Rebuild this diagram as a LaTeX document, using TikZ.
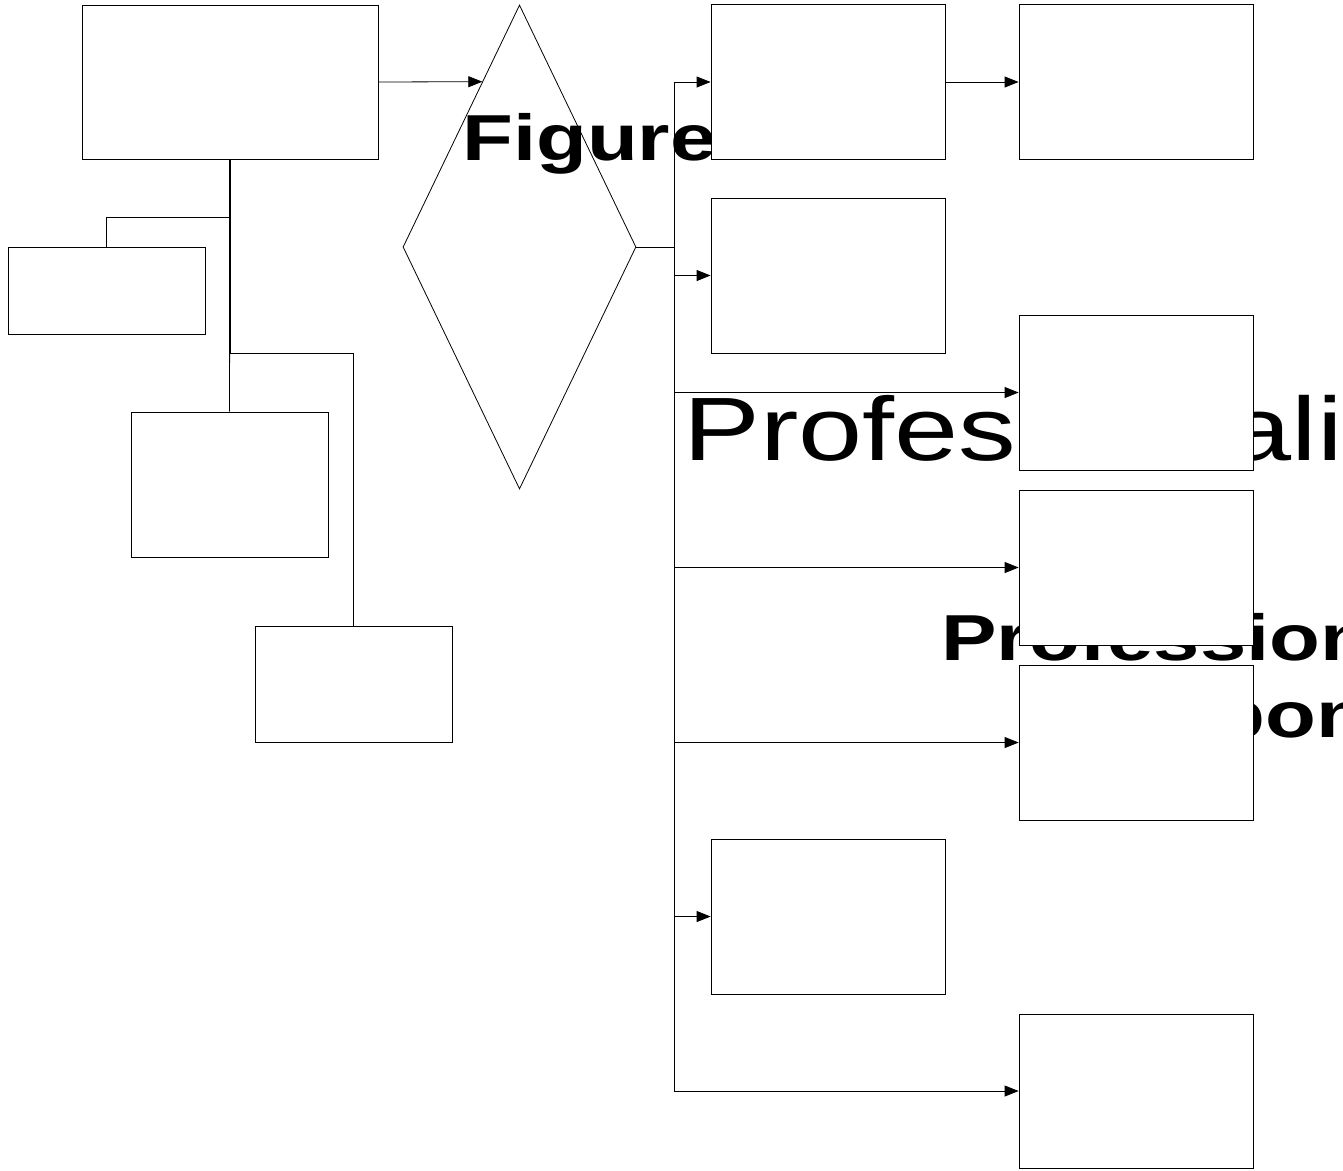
\documentclass[tikz,border=0pt]{standalone}
\usepackage{fontspec}
\usepackage{graphicx}
\setmainfont{Liberation Sans}
\usetikzlibrary{arrows.meta,shapes.geometric,calc}
\begin{document}
\begin{tikzpicture}[x=1pt,y=-1pt,
  box/.style={draw=black, fill=white, line width=0.8pt, inner sep=0pt, minimum width=234pt, minimum height=155pt},
  conn/.style={draw=black, line width=0.8pt},
  arr/.style={conn, -{Triangle[length=14pt,width=11pt]}},
  bigbold/.style={anchor=base west, inner sep=0pt, font=\fontsize{65}{75}\selectfont\bfseries},
  bigreg/.style={anchor=base west, inner sep=0pt, font=\fontsize{90}{100}\selectfont}]
\fill[white] (0,0) rectangle (1343,1170);
\useasboundingbox (0,0) rectangle (1343,1170);

% diamond
\node[diamond, draw=black, line width=0.8pt, inner sep=0pt, minimum width=233pt, minimum height=484pt] (dia) at (519.5,247) {};

% texts (behind the boxes)
\node[bigbold] (t1) at (462,160) {\scalebox{1.28}[1]{Figure}};
\node[bigreg] (t2) at (683,460) {\scalebox{1.28}[1]{Professionalism}};
\node[bigbold] (t3) at (941,660) {\scalebox{1.28}[1]{Professional}};
\node[bigbold] (t4) at (1062,737) {\scalebox{1.28}[1]{Responsibility}};

% left boxes
\node[box, minimum width=296pt, minimum height=154pt] (A) at (230,82) {};
\node[box, minimum width=197pt, minimum height=87pt] (B) at (106.5,290.5) {};
\node[box, minimum width=197pt, minimum height=145pt] (C) at (229.5,484.5) {};
\node[box, minimum width=197pt, minimum height=116pt] (D) at (353.5,684) {};

% right boxes
\node[box] (R1) at (828,82) {};
\node[box] (R1b) at (1136,82) {};
\node[box] (R2) at (828,275.5) {};
\node[box] (R3) at (1136,392.5) {};
\node[box] (R4) at (1136,567.5) {};
\node[box] (R5) at (1136,742.5) {};
\node[box] (R6) at (828,916.5) {};
\node[box, minimum height=154pt] (R7) at (1136,1091) {};

% left connectors
\coordinate (jB) at (230,217);
\coordinate (jD) at (230,353);
\draw[conn] (A.south) -- (C.north);
\draw[conn, line width=1.6pt] (A.south) -- (jD);
\draw[conn] (jB) -| (B.north);
\draw[conn] (jD) -| (D.north);

% A to diamond
\coordinate (dtip) at ($(dia.west)!0.682!(dia.north)$);
\draw[arr] (A.east) -- (dtip);

% bus on the right
\coordinate (bj) at (674,247);
\coordinate (bt) at (674,82);
\coordinate (bb) at (674,1091);
\draw[conn] (dia.east) -- (bj);
\draw[conn] (bt) -- (bb);
\foreach \n in {R1,R2,R3,R4,R5,R6,R7}
  \draw[arr] (bt |- \n.west) -- (\n.west);
\draw[arr] (R1.east) -- (R1b.west);
\end{tikzpicture}
\end{document}
